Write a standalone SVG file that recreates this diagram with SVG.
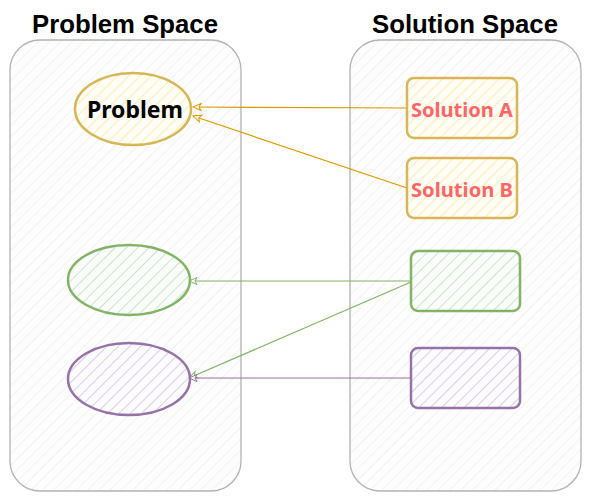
<svg xmlns="http://www.w3.org/2000/svg" width="591" height="501" viewBox="0 0 591 501">
<defs>
<style>
.title{font-family:"Liberation Sans",Arial,sans-serif;font-weight:bold;font-size:25px;fill:#000;text-anchor:middle}
.lbl{font-family:"Noto Sans","DejaVu Sans",sans-serif;font-weight:bold;text-anchor:middle;dominant-baseline:central}
.cont{stroke:#b3b3b3;stroke-width:1.3;fill:url(#hg)}
.conn{fill:none;stroke-width:1.2}
</style>
<pattern id="hg" width="8" height="8" patternUnits="userSpaceOnUse" patternTransform="rotate(45)"><rect width="8" height="8" fill="#fdfdfd"/><line x1="0" y1="0" x2="0" y2="8" stroke="#efefef" stroke-width="1.5"/></pattern>
<pattern id="hy" width="8" height="8" patternUnits="userSpaceOnUse" patternTransform="rotate(45)"><rect width="8" height="8" fill="#fffdf7"/><line x1="0" y1="0" x2="0" y2="8" stroke="#ffeeb8" stroke-width="2.5"/></pattern>
<pattern id="hgr" width="8" height="8" patternUnits="userSpaceOnUse" patternTransform="rotate(45)"><rect width="8" height="8" fill="#fafcfa"/><line x1="0" y1="0" x2="0" y2="8" stroke="#cde3cb" stroke-width="2"/></pattern>
<pattern id="hp" width="8" height="8" patternUnits="userSpaceOnUse" patternTransform="rotate(45)"><rect width="8" height="8" fill="#fcfbfd"/><line x1="0" y1="0" x2="0" y2="8" stroke="#dccde4" stroke-width="2"/></pattern>
<marker id="ay" markerWidth="10" markerHeight="10" refX="9" refY="5" orient="auto" markerUnits="userSpaceOnUse"><path d="M1,1.5 L9,5 L1,8.5 L3,5 Z" fill="#fff" stroke="#d79b00" stroke-width="1"/></marker>
<marker id="ag" markerWidth="10" markerHeight="10" refX="9" refY="5" orient="auto" markerUnits="userSpaceOnUse"><path d="M1,1.5 L9,5 L1,8.5 L3,5 Z" fill="#fff" stroke="#82b366" stroke-width="1"/></marker>
<marker id="ap" markerWidth="10" markerHeight="10" refX="9" refY="5" orient="auto" markerUnits="userSpaceOnUse"><path d="M1,1.5 L9,5 L1,8.5 L3,5 Z" fill="#fff" stroke="#9673a6" stroke-width="1"/></marker>
</defs>
<rect width="591" height="501" fill="#fff"/>
<g id="problem-space">
<rect class="cont" x="10" y="40" width="231" height="451" rx="30"/>
<text class="title" x="125" y="33" textLength="186" lengthAdjust="spacingAndGlyphs">Problem Space</text>
</g>
<g id="solution-space">
<rect class="cont" x="350" y="40" width="231" height="451" rx="30"/>
<text class="title" x="465" y="33" textLength="186" lengthAdjust="spacingAndGlyphs">Solution Space</text>
</g>
<g id="connectors">
<path class="conn" stroke="#d79b00" d="M407,108 L193,107" marker-end="url(#ay)"/>
<path class="conn" stroke="#d79b00" d="M407,188 L193,116" marker-end="url(#ay)"/>
<path class="conn" stroke="#82b366" d="M411,281 L189,281" marker-end="url(#ag)"/>
<path class="conn" stroke="#82b366" d="M411,282 L189,378" marker-end="url(#ag)"/>
<path class="conn" stroke="#9673a6" d="M411,378 L189,378" marker-end="url(#ap)"/>
</g>
<g id="problem">
<ellipse cx="133" cy="109" rx="58" ry="36" fill="url(#hy)" stroke="#d6b656" stroke-width="2.5"/>
<text class="lbl" x="135" y="108" font-size="24" fill="#000" textLength="96" lengthAdjust="spacingAndGlyphs">Problem</text>
</g>
<g id="solution-a">
<rect x="407" y="78" width="110" height="60" rx="7" fill="url(#hy)" stroke="#d6b656" stroke-width="2.5"/>
<text class="lbl" x="462" y="109" font-size="20" fill="#ff6666" textLength="102" lengthAdjust="spacingAndGlyphs">Solution A</text>
</g>
<g id="solution-b">
<rect x="407" y="158" width="110" height="60" rx="7" fill="url(#hy)" stroke="#d6b656" stroke-width="2.5"/>
<text class="lbl" x="462" y="189" font-size="20" fill="#ff6666" textLength="102" lengthAdjust="spacingAndGlyphs">Solution B</text>
</g>
<g id="green-ellipse">
<ellipse cx="129" cy="280" rx="61" ry="35" fill="url(#hgr)" stroke="#82b366" stroke-width="2.5"/>
</g>
<g id="purple-ellipse">
<ellipse cx="129" cy="379" rx="61" ry="36" fill="url(#hp)" stroke="#9673a6" stroke-width="2.5"/>
</g>
<g id="green-rect">
<rect x="411" y="251" width="109" height="60" rx="7" fill="url(#hgr)" stroke="#82b366" stroke-width="2.5"/>
</g>
<g id="purple-rect">
<rect x="411" y="348" width="109" height="60" rx="7" fill="url(#hp)" stroke="#9673a6" stroke-width="2.5"/>
</g>
</svg>
